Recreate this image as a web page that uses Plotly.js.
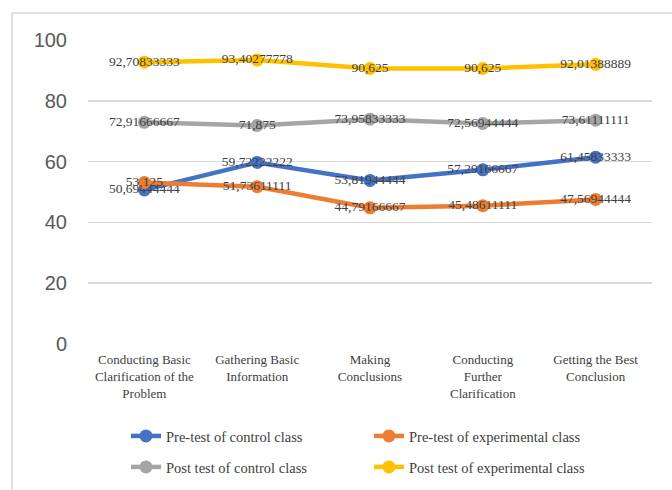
<!DOCTYPE html>
<html>
<head>
<meta charset="utf-8">
<script src="https://cdn.plot.ly/plotly-3.0.1.min.js"></script>
<style>html,body{margin:0;padding:0;background:#fff;}#chart{width:672px;height:490px;}</style>
</head>
<body>
<div id="chart"></div>
<script>
const categories = [
  "Conducting Basic<br>Clarification of the<br>Problem",
  "Gathering Basic<br>Information",
  "Making<br>Conclusions",
  "Conducting<br>Further<br>Clarification",
  "Getting the Best<br>Conclusion"
];
const seriesNames = [
  "Pre-test of control class",
  "Pre-test of experimental class",
  "Post test of control class",
  "Post test of experimental class"
];
const preControl = [50.69444444, 59.72222222, 53.81944444, 57.29166667, 61.45833333];
const preExperimental = [53.125, 51.73611111, 44.79166667, 45.48611111, 47.56944444];
const postControl = [72.91666667, 71.875, 73.95833333, 72.56944444, 73.61111111];
const postExperimental = [92.70833333, 93.40277778, 90.625, 90.625, 92.01388889];
const yTicks = [0, 20, 40, 60, 80, 100];

const colors = ["#4472C4", "#ED7D31", "#A5A5A5", "#FFC000"];
const allSeries = [preControl, preExperimental, postControl, postExperimental];
const legends = ["legend", "legend", "legend2", "legend2"];

function fmt(v) { return String(v).replace(".", ","); }

const traces = allSeries.map((vals, i) => ({
  type: "scatter",
  mode: "lines+markers+text",
  name: seriesNames[i],
  x: categories,
  y: vals,
  text: vals.map(fmt),
  textposition: "middle center",
  textfont: {family: "Liberation Serif, serif", size: 13.5, color: "#404040"},
  line: {color: colors[i], width: 4.5},
  marker: {color: colors[i], size: 13},
  legend: legends[i],
  cliponaxis: false,
  hoverinfo: "none"
}));

const W = 672, H = 490;
const ml = 88, mr = 20, mt = 40, mb = 146;
const pw = W - ml - mr, ph = H - mt - mb;
function px(x) { return (x - ml) / pw; }
function py(y) { return (H - mb - y) / ph; }

const legendCommon = {
  orientation: "h",
  xref: "container", yref: "container",
  x: 126 / W, xanchor: "left",
  yanchor: "middle",
  entrywidth: 198, entrywidthmode: "pixels",
  font: {family: "Liberation Serif, serif", size: 14.5, color: "#404040"},
  bgcolor: "rgba(0,0,0,0)"
};

const layout = {
  width: W, height: H,
  margin: {l: ml, r: mr, t: mt, b: mb},
  paper_bgcolor: "#ffffff",
  plot_bgcolor: "#ffffff",
  showlegend: true,
  xaxis: {
    type: "category",
    range: [-0.5, categories.length - 0.5],
    autorange: false,
    showgrid: false,
    zeroline: false,
    showline: false,
    ticks: "",
    ticklabelstandoff: 6,
    tickfont: {family: "Liberation Serif, serif", size: 13, color: "#404040"},
    automargin: false
  },
  yaxis: {
    range: [0, 100],
    autorange: false,
    tickvals: yTicks,
    ticktext: yTicks.map(String),
    showgrid: true,
    gridcolor: "#d9d9d9",
    gridwidth: 1.5,
    zeroline: false,
    showline: false,
    ticks: "",
    ticklabelstandoff: 20,
    tickfont: {family: "Liberation Sans, Arial, sans-serif", size: 20, color: "#595959"},
    automargin: false
  },
  legend: Object.assign({}, legendCommon, {y: (H - 436) / H}),
  legend2: Object.assign({}, legendCommon, {y: (H - 467) / H}),
  shapes: [{
    type: "rect", xref: "paper", yref: "paper",
    x0: px(12), x1: px(690), y0: py(495), y1: py(13),
    line: {color: "#d9d9d9", width: 1.5},
    fillcolor: "rgba(0,0,0,0)", layer: "below"
  }]
};

Plotly.newPlot("chart", traces, layout, {displayModeBar: false, staticPlot: true});
</script>
</body>
</html>
